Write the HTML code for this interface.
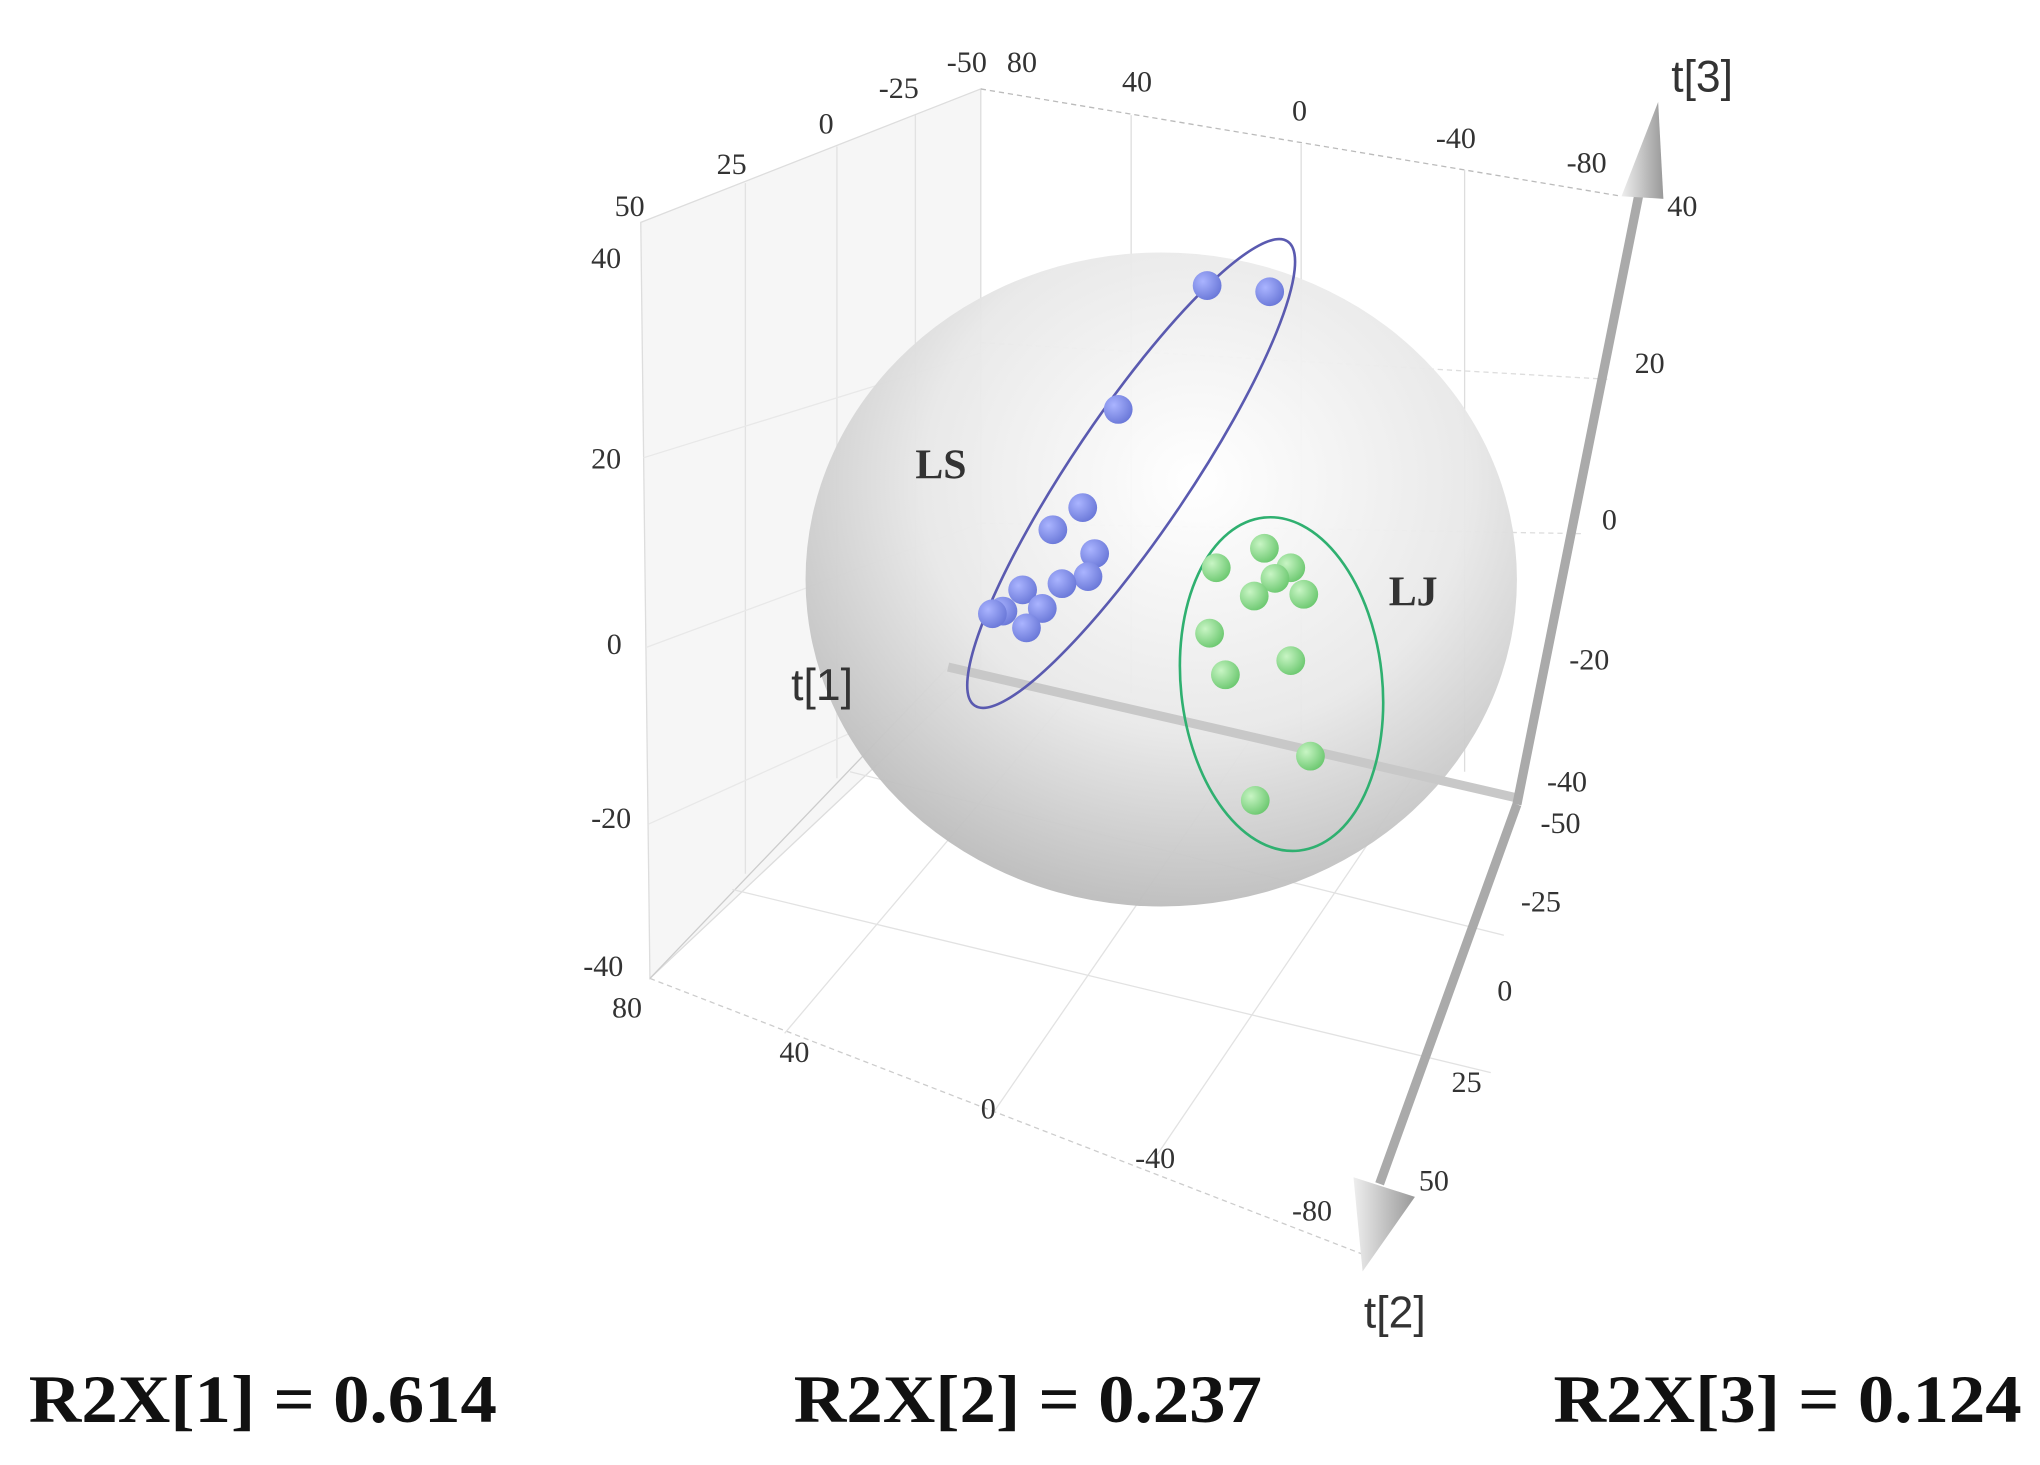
<!DOCTYPE html>
<html><head><meta charset="utf-8"><style>
html,body{margin:0;padding:0;background:#fff;width:2040px;height:1465px;overflow:hidden}
svg{display:block}
text{font-family:"Liberation Serif",serif;fill:#333}
</style></head><body>
<svg id="chart" width="2040" height="1465" viewBox="0 0 1560 1120" preserveAspectRatio="none" xmlns="http://www.w3.org/2000/svg">
<defs>
<radialGradient id="sph" cx="0.55" cy="0.35" r="0.7">
<stop offset="0" stop-color="#ffffff"/><stop offset="0.55" stop-color="#e8e8e8"/><stop offset="1" stop-color="#b5b5b5"/>
</radialGradient>
<radialGradient id="gb" cx="0.35" cy="0.35" r="0.7"><stop offset="0" stop-color="#aab4ff"/><stop offset="1" stop-color="#6a78d8"/></radialGradient>
<radialGradient id="gg" cx="0.35" cy="0.35" r="0.7"><stop offset="0" stop-color="#c8f5c4"/><stop offset="1" stop-color="#6cc870"/></radialGradient>
<linearGradient id="arr" x1="0" x2="1"><stop offset="0" stop-color="#eee"/><stop offset="1" stop-color="#999"/></linearGradient>
</defs>
<g>
<polygon points="490,170 750,68 750,510 497,748" fill="#f6f6f6" stroke="#ddd"/>
<line x1="570" y1="140" x2="570" y2="668" stroke="#e2e2e2"/>
<line x1="640" y1="112" x2="640" y2="595" stroke="#e2e2e2"/>
<line x1="700" y1="88" x2="700" y2="548" stroke="#e2e2e2"/>
<line x1="492" y1="350" x2="750" y2="270" stroke="#e8e8e8"/>
<line x1="494" y1="495" x2="750" y2="400" stroke="#e8e8e8"/>
<line x1="496" y1="630" x2="740" y2="520" stroke="#e8e8e8"/>
</g>
<g stroke="#ddd" fill="none">
<line x1="750" y1="68" x2="1240" y2="150" stroke-dasharray="4,3" stroke="#bbb"/>
<line x1="750" y1="262" x2="1230" y2="290" stroke-dasharray="4,3"/>
<line x1="750" y1="400" x2="1210" y2="408" stroke-dasharray="4,3"/>
<line x1="865" y1="88" x2="865" y2="530"/>
<line x1="995" y1="110" x2="995" y2="560"/>
<line x1="1120" y1="130" x2="1120" y2="590"/>
</g>
<g stroke="#e2e2e2" fill="none">
<line x1="497" y1="748" x2="1045" y2="960" stroke="#ccc" stroke-dasharray="4,3"/>
<line x1="497" y1="748" x2="725" y2="510" stroke="#ccc"/>
<line x1="600" y1="790" x2="820" y2="530"/>
<line x1="760" y1="850" x2="960" y2="560"/>
<line x1="880" y1="890" x2="1080" y2="595"/>
<line x1="560" y1="680" x2="1140" y2="820"/>
<line x1="650" y1="590" x2="1150" y2="715"/>
</g>
<ellipse cx="888" cy="443" rx="272" ry="250" fill="url(#sph)" opacity="0.95"/>
<line x1="725" y1="510" x2="1160" y2="610" stroke="#c8c8c8" stroke-width="7"/>
<text x="605" y="535" font-size="34" style="font-family:'Liberation Sans',sans-serif">t[1]</text>
<g>
<line x1="1160" y1="615" x2="1255" y2="140" stroke="#aaa" stroke-width="7"/>
<polygon points="1268,78 1240,150 1272,152" fill="url(#arr)"/>
<text x="1278" y="70" font-size="34" style="font-family:'Liberation Sans',sans-serif">t[3]</text>
</g>
<g>
<line x1="1160" y1="615" x2="1055" y2="905" stroke="#aaa" stroke-width="7"/>
<polygon points="1042,972 1035,900 1082,915" fill="url(#arr)"/>
<text x="1043" y="1015" font-size="34" style="font-family:'Liberation Sans',sans-serif">t[2]</text>
</g>
<g id="ticks" font-size="23"></g>
<ellipse cx="865" cy="362" rx="214" ry="45" transform="rotate(-56 865 362)" fill="none" stroke="#5a5ab0" stroke-width="2"/>
<ellipse cx="980" cy="523" rx="77" ry="128" transform="rotate(-6 980 523)" fill="none" stroke="#2fb070" stroke-width="2"/>
<g id="pts"></g>
<text x="700" y="366" font-size="32" font-weight="bold" fill="#222">LS</text>
<text x="1062" y="463" font-size="32" font-weight="bold" fill="#222">LJ</text>
<text x="22" y="1087" font-size="52" font-weight="bold" textLength="358" lengthAdjust="spacingAndGlyphs" style="fill:#111">R2X[1] = 0.614</text>
<text x="607" y="1087" font-size="52" font-weight="bold" textLength="358" lengthAdjust="spacingAndGlyphs" style="fill:#111">R2X[2] = 0.237</text>
<text x="1188" y="1087" font-size="52" font-weight="bold" textLength="358" lengthAdjust="spacingAndGlyphs" style="fill:#111">R2X[3] = 0.124</text>
</svg>
<script>
const lsT1 = [27.5, 9.7, 52.8, 62.9, 71.4, 59.5, 61.4, 68.8, 80, 74.4, 78.9, 85.6, 88.6];
const lsT3 = [36.7, 36.0, 22.7, 11.6, 9.1, 6.4, 3.8, 3.0, 2.3, 0.2, -2.0, -0.1, -0.4];
const ljT1 = [24.9, 11.2, 3.7, 8.2, 14.1, 0, 26.8, 22.3, 3.7, -1.9, 13.8];
const ljT3 = [4.8, 7.0, 4.8, 3.6, 1.6, 1.8, -2.6, -7.3, -5.7, -16.5, -21.5];
const t1Ticks = ["80","40","0","-40","-80"];
const t3Ticks = ["40","20","0","-20","-40"];
const t2Ticks = ["-50","-25","0","25","50"];
function sx(t1){return 782 + (80 - t1) * 2.6875;}
function sy(t3){return 196 + (40 - t3) * 6.7625;}
const NS = "http://www.w3.org/2000/svg";
const pts = document.getElementById('pts');
function dot(x, y, fill, name){
  const c = document.createElementNS(NS, 'circle');
  c.setAttribute('cx', x); c.setAttribute('cy', y); c.setAttribute('r', 11);
  c.setAttribute('fill', fill);
  
  
  pts.appendChild(c);
}
lsT1.forEach((v,i)=>dot(sx(v), sy(lsT3[i]), 'url(#gb)', 'ls-point'));
ljT1.forEach((v,i)=>dot(sx(v), sy(ljT3[i]), 'url(#gg)', 'lj-point'));
const tk = document.getElementById('ticks');
function lab(x, y, s, name){
  const t = document.createElementNS(NS, 'text');
  t.setAttribute('x', x); t.setAttribute('y', y); t.textContent = s;
  
  
  tk.appendChild(t);
}
const topPos = [[770,55],[858,70],[988,92],[1098,113],[1198,132]];
t1Ticks.forEach((s,i)=>lab(topPos[i][0], topPos[i][1], s, 't1-top-tick'));
const botPos = [[468,778],[596,812],[750,855],[868,893],[988,933]];
t1Ticks.forEach((s,i)=>lab(botPos[i][0], botPos[i][1], s, 't1-bottom-tick'));
t3Ticks.forEach((s,i)=>lab(i==4?446:(i==2?464:452), [205,358,500,633,746][i], s, 't3-left-tick'));
const rPos = [[1275,165],[1250,285],[1225,405],[1200,512],[1183,605]];
t3Ticks.forEach((s,i)=>lab(rPos[i][0], rPos[i][1], s, 't3-right-tick'));
const lwPos = [[470,165],[548,133],[626,102],[672,75],[724,55]];
["50","25","0","-25","-50"].forEach((s,i)=>lab(lwPos[i][0], lwPos[i][1], s, 't2-top-tick'));
const r2Pos = [[1178,637],[1163,697],[1145,765],[1110,835],[1085,910]];
t2Ticks.forEach((s,i)=>lab(r2Pos[i][0], r2Pos[i][1], s, 't2-right-tick'));
</script>
</body></html>
